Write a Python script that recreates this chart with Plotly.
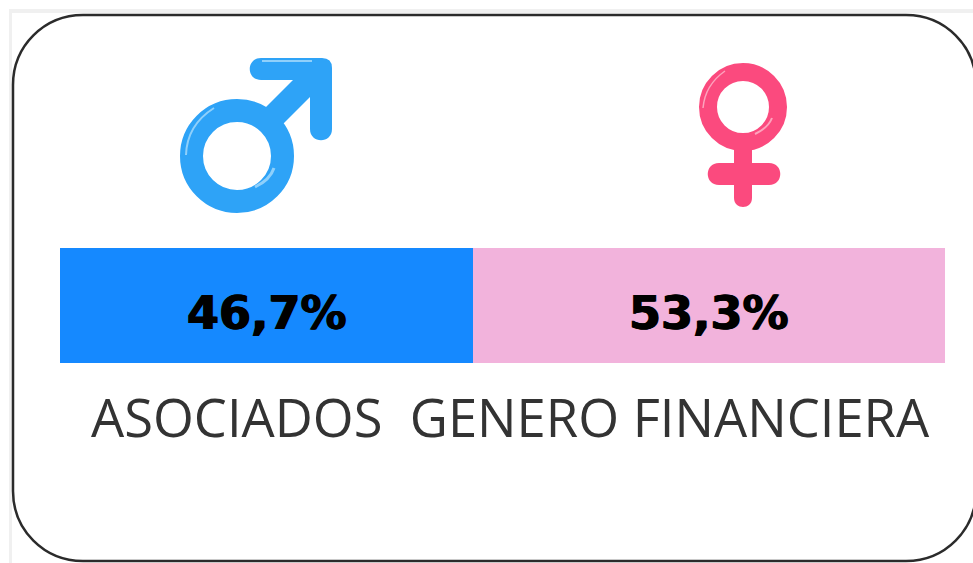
import plotly.graph_objects as go

W, H = 973, 563
row = ["GENERO"]
series_names = ["Masculino", "Femenino"]
series_values = [46.7, 53.3]
series_labels = ["46,7%", "53,3%"]
series_colors = ["#1589ff", "#f2b3dc"]
caption = "ASOCIADOS  GENERO FINANCIERA"

fig = go.Figure()
# invisible carrier so the pixel-scaled decoration axes exist (drawn first, below the bars)
fig.add_trace(go.Scatter(x=[0], y=[0], xaxis="x", yaxis="y", mode="markers",
                         marker=dict(opacity=0), hoverinfo="skip", showlegend=False))
for name, val, col in zip(series_names, series_values, series_colors):
    fig.add_trace(go.Bar(
        y=row, x=[val], name=name, orientation="h", xaxis="x2", yaxis="y2",
        marker=dict(color=col, line=dict(width=0)),
        hoverinfo="skip", showlegend=False,
    ))

def ln(path, color, width):
    return dict(type="path", path=path, xref="x", yref="y", layer="above",
                line=dict(color=color, width=width), fillcolor="rgba(0,0,0,0)")

def solid(path, color):
    return dict(type="path", path=path, xref="x", yref="y", layer="above",
                line=dict(width=0), fillcolor=color)

def ring(cx, cy, r, color, width):
    return dict(type="circle", xref="x", yref="y", x0=cx-r, x1=cx+r, y0=cy-r, y1=cy+r,
                layer="above", line=dict(color=color, width=width), fillcolor="rgba(0,0,0,0)")

BLUE, BLUE_L = "#2ea3f7", "#8fd0fb"
PINK, PINK_L = "#fb4a7e", "#fda3bd"
shapes = [
    # page strip
    dict(type="rect", xref="x", yref="y", x0=9, x1=973, y0=9, y1=13, layer="below",
         fillcolor="#f0f0f0", line=dict(width=0)),
    dict(type="rect", xref="x", yref="y", x0=9, x1=12, y0=9, y1=563, layer="below",
         fillcolor="#f0f0f0", line=dict(width=0)),
    # card
    dict(type="path", xref="x", yref="y", layer="below",
         path=("M 83 15 L 906 15 C 945 15 976 46 976 85 L 976 491 C 976 530 945 561 906 561 "
               "L 83 561 C 44 561 13 530 13 491 L 13 85 C 13 46 44 15 83 15 Z"),
         line=dict(color="#2b2b2b", width=2.5), fillcolor="#ffffff"),
    # male symbol
    ring(237, 156, 45.5, BLUE, 23),
    ln("M 268 122 L 318 72", BLUE, 24),
    solid("M 261 58 L 322 58 Q 332 58 332 68 L 332 129 C 332 144 310 144 310 129 "
          "L 310 80 L 261 80 C 246 80 246 58 261 58 Z", BLUE),
    ln("M 186 155 Q 187 125 214 108", BLUE_L, 2),
    ln("M 312 61 L 262 61", BLUE_L, 2),
    ln("M 255 187 Q 270 180 274 168", BLUE_L, 3),
    # female symbol
    ring(743, 107, 35, PINK, 18),
    solid("M 734 140 L 752 140 L 752 198 C 752 210 734 210 734 198 Z", PINK),
    solid("M 719 163 L 769 163 C 784 163 784 185 769 185 L 719 185 C 704 185 704 163 719 163 Z", PINK),
    ln("M 703 108 Q 705 85 725 71", PINK_L, 1.5),
    ln("M 755 134 Q 768 128 772 118", PINK_L, 2),
]

# value labels, centred on each stacked segment through the bar axis
starts = [sum(series_values[:i]) for i in range(len(series_values))]
annotations = [
    dict(text=f"<b>{lab}</b>", xref="x2", yref="y2", x=s + v / 2, y=row[0], yshift=-7,
         xanchor="center", yanchor="middle", showarrow=False,
         font=dict(family="DejaVu Sans", size=46, color="#000000",
                   shadow="0.8px 0 0 #000, -0.8px 0 0 #000"))
    for lab, s, v in zip(series_labels, starts, series_values)
]
annotations.append(dict(text=caption, xref="paper", yref="paper", x=510/W, y=1-416/H,
                        xanchor="center", yanchor="middle", showarrow=False,
                        font=dict(family="Open Sans", size=52.5, color="#333333")))

fig.update_layout(
    width=W, height=H, margin=dict(l=0, r=0, t=0, b=0), autosize=False,
    barmode="stack", bargap=0, paper_bgcolor="#ffffff", plot_bgcolor="rgba(0,0,0,0)",
    xaxis=dict(domain=[0, 1], range=[0, W], visible=False, fixedrange=True),
    yaxis=dict(domain=[0, 1], range=[H, 0], visible=False, fixedrange=True),
    xaxis2=dict(domain=[60/W, 945/W], range=[0, 100], visible=False, anchor="y2", fixedrange=True),
    yaxis2=dict(domain=[1-363/H, 1-248/H], visible=False, anchor="x2", fixedrange=True),
    shapes=shapes,
    annotations=annotations,
)
fig.write_html("out.html", config=dict(displayModeBar=False),
               post_script="document.body.style.margin='0';document.documentElement.style.overflow='hidden';")
